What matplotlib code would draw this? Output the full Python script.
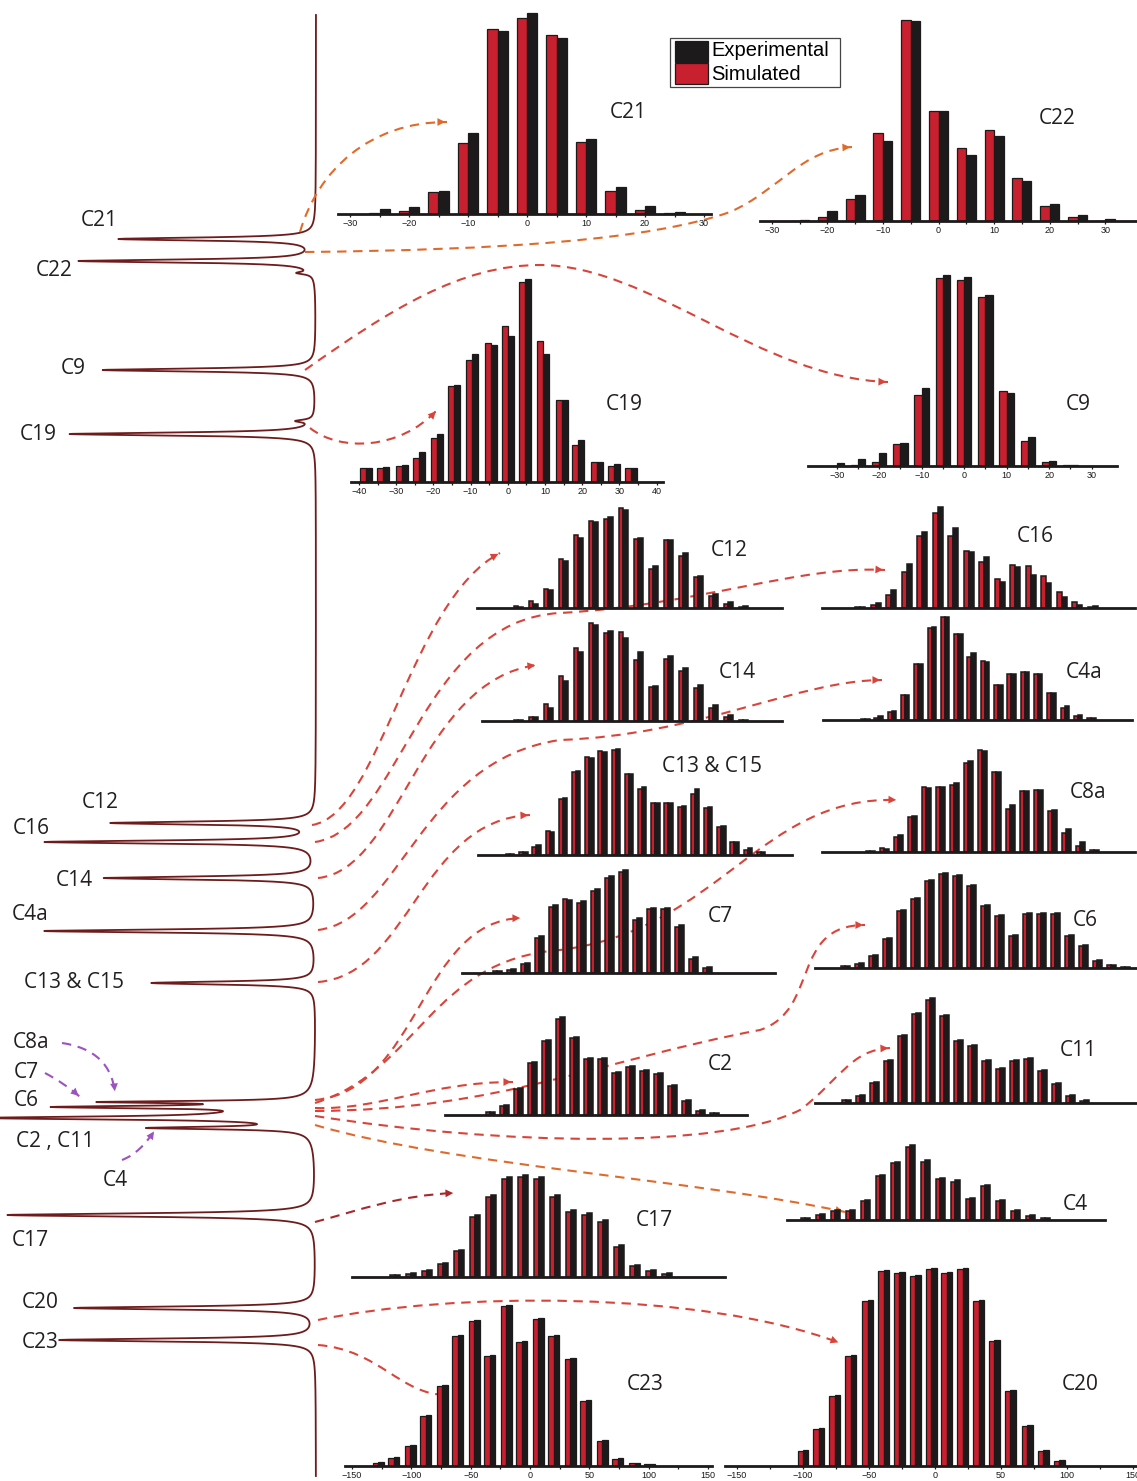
import numpy as np
import matplotlib.pyplot as plt
from matplotlib.path import Path
from matplotlib.patches import PathPatch, FancyArrowPatch, Rectangle

W, H = 1137, 1481
RED = "#c8202e"
BLK = "#1c1a1b"
SPEC = "#6e1b1b"
ARROW = "#d9443a"
ORANGE = "#e06a2c"
PURPLE = "#9c52c0"
LABEL_FONT = ["Open Sans", "DejaVu Sans"]
TICK_FONT = ["Liberation Sans", "DejaVu Sans"]

# ---- 13C spectrum: peak positions (px along the strip), tip positions, widths ----
spec_base = 316
peak_y = [239, 261, 273, 370, 421, 434, 823, 842, 878, 931, 983,
          1102, 1107, 1114, 1118, 1128, 1215, 1308, 1340]
peak_tip = [120, 80, 302, 103, 300, 70, 113, 47, 105, 45, 152,
            130, 92, 262, 30, 165, 8, 75, 60]
peak_w = [1.8, 1.8, 1.5, 1.8, 1.5, 1.8, 1.8, 1.8, 1.8, 1.8, 1.8,
          1.2, 1.5, 6.0, 1.8, 1.5, 2.0, 1.8, 1.8]

spec_labels = ["C21", "C22", "C9", "C19", "C12", "C16", "C14", "C4a", "C13 & C15",
               "C8a", "C7", "C6", "C2 , C11", "C4", "C17", "C20", "C23"]
spec_label_xy = [(99, 220), (54, 271), (73, 368), (38, 435), (100, 803), (31, 829),
                 (74, 880), (30, 915), (74, 982), (31, 1043), (26, 1072), (26, 1101),
                 (55, 1142), (115, 1180), (30, 1240), (40, 1302), (40, 1342)]

# ---- histograms: experimental vs simulated ----
c21_x = [-25, -20, -15, -10, -5, 0, 5, 10, 15, 20, 25]
c21_exp = [5, 7, 23, 81, 183, 201, 176, 75, 27, 8, 2]
c21_sim = [1, 3, 22, 71, 185, 196, 179, 72, 23, 4, 1]

c22_x = [-25, -20, -15, -10, -5, 0, 5, 10, 15, 20, 25, 30]
c22_exp = [1, 10, 26, 80, 200, 110, 66, 85, 40, 17, 6, 2]
c22_sim = [0, 4, 22, 88, 201, 110, 73, 91, 43, 15, 4, 0]

c19_x = [-38, -33.5, -28.5, -24, -19, -14.5, -9.5, -4.5, 0, 4.5, 9.5, 14.5, 19, 24, 28.5, 33]
c19_exp = [14, 15, 17, 30, 48, 97, 128, 137, 146, 203, 128, 82, 42, 20, 18, 14]
c19_sim = [14, 14, 16, 24, 44, 96, 122, 139, 156, 200, 141, 82, 37, 20, 16, 14]

c9_x = [-30, -25, -20, -15, -10, -5, 0, 5, 10, 15, 20, 25]
c9_exp = [3, 7, 13, 23, 78, 191, 189, 171, 73, 29, 5, 1]
c9_sim = [0, 1, 4, 22, 71, 188, 186, 169, 75, 25, 4, 1]

c12_exp = [1, 4, 18, 47, 70, 86, 91, 98, 70, 42, 68, 55, 32, 14, 6, 2]
c12_sim = [2, 7, 19, 49, 73, 87, 89, 100, 69, 39, 68, 52, 31, 12, 4, 1]

c16_exp = [1, 5, 18, 44, 76, 101, 80, 56, 51, 26, 41, 33, 25, 11, 3, 2]
c16_sim = [1, 3, 13, 36, 72, 95, 72, 57, 46, 29, 43, 42, 32, 16, 6, 1]

c14_exp = [1, 4, 13, 40, 69, 96, 90, 83, 69, 35, 65, 53, 36, 16, 6, 1]
c14_sim = [1, 4, 17, 45, 73, 98, 88, 89, 61, 34, 62, 50, 33, 13, 4, 1]

c4a_exp = [1, 4, 9, 25, 56, 93, 103, 86, 67, 58, 35, 46, 48, 46, 27, 14, 5, 2]
c4a_sim = [1, 2, 8, 25, 56, 92, 103, 86, 63, 59, 35, 46, 48, 46, 27, 12, 4, 2]

c1315_exp = [1, 3, 10, 23, 57, 84, 97, 103, 106, 81, 68, 52, 52, 49, 66, 48, 29, 13, 7, 3]
c1315_sim = [1, 3, 8, 24, 56, 83, 98, 104, 105, 81, 66, 52, 52, 48, 61, 47, 28, 13, 5, 3]

c8a_exp = [1, 3, 17, 36, 64, 65, 69, 91, 101, 80, 47, 61, 62, 42, 23, 10, 2]
c8a_sim = [1, 4, 15, 35, 65, 65, 67, 89, 102, 80, 43, 61, 62, 41, 19, 6, 2]

c7_exp = [2, 4, 10, 37, 68, 73, 72, 84, 97, 103, 55, 65, 65, 48, 16, 6]
c7_sim = [2, 3, 9, 35, 66, 74, 70, 82, 95, 101, 53, 64, 64, 46, 14, 5]

c6_exp = [2, 5, 13, 30, 58, 70, 88, 95, 93, 83, 63, 53, 33, 55, 55, 55, 33, 23, 8, 3, 1]
c6_sim = [2, 4, 12, 29, 57, 69, 87, 94, 92, 82, 62, 52, 32, 54, 54, 54, 32, 22, 7, 3, 1]

c2_exp = [3, 10, 27, 53, 75, 98, 78, 57, 57, 43, 49, 45, 42, 30, 15, 5, 2]
c2_sim = [3, 9, 26, 52, 74, 96, 77, 56, 56, 42, 48, 44, 41, 29, 14, 4, 2]

c11_exp = [3, 8, 21, 43, 68, 90, 105, 88, 63, 58, 43, 35, 43, 45, 33, 20, 8, 3]
c11_sim = [3, 7, 20, 42, 67, 89, 103, 87, 62, 57, 42, 34, 42, 44, 32, 19, 7, 2]

c17_exp = [2, 4, 7, 14, 27, 62, 82, 100, 102, 100, 82, 67, 64, 57, 32, 12, 7, 4]
c17_sim = [2, 3, 6, 13, 26, 60, 80, 98, 100, 98, 80, 65, 62, 55, 30, 11, 6, 3]

c4_exp = [2, 6, 10, 10, 20, 45, 58, 75, 60, 42, 40, 22, 35, 20, 10, 5, 2]
c4_sim = [2, 5, 9, 9, 19, 44, 57, 73, 58, 41, 38, 21, 34, 19, 9, 4, 2]

c23_x = [-128, -115, -101, -88, -74, -61, -47, -34, -20, -7, 7, 20, 34, 47, 61, 74, 88, 101]
c23_exp = [4, 9, 21, 51, 81, 131, 146, 111, 161, 125, 148, 131, 108, 66, 26, 8, 3, 2]
c23_sim = [3, 8, 20, 50, 80, 130, 145, 110, 160, 124, 147, 130, 107, 65, 25, 7, 3, 2]

c20_x = [-100, -88, -76, -64, -51, -39, -27, -15, -3, 9, 21, 33, 45, 57, 70, 82, 94]
c20_exp = [16, 38, 71, 111, 166, 196, 194, 191, 198, 194, 198, 166, 126, 76, 41, 16, 6]
c20_sim = [15, 37, 70, 110, 165, 195, 193, 190, 197, 193, 197, 165, 125, 75, 40, 15, 5]

fig = plt.figure(figsize=(W / 100, H / 100), dpi=100)
bg = fig.add_axes([0, 0, 1, 1])
bg.set_xlim(0, W)
bg.set_ylim(H, 0)
bg.axis("off")

# spectrum drawn on its side, peaks pointing left
sy = np.linspace(15, 1476, 40000)
sx = np.full_like(sy, float(spec_base))
for yc, tip, g in zip(peak_y, peak_tip, peak_w):
    sx -= (spec_base - tip) * g ** 2 / (g ** 2 + (sy - yc) ** 2)
bg.plot(sx, sy, color=SPEC, lw=1.3, zorder=3)

for txt, (x, y) in zip(spec_labels, spec_label_xy):
    bg.text(x, y, txt, fontsize=15, family=LABEL_FONT, ha="center", va="center", color="#231f20")


def curve(pts, color, lw=1.5):
    pts = np.asarray(pts, float)
    codes = [Path.MOVETO] + [Path.CURVE4] * (len(pts) - 1)
    bg.add_patch(PathPatch(Path(pts, codes), fc="none", ec=color, lw=lw,
                           ls=(0, (4.5, 3.2)), zorder=4))
    d = pts[-1] - pts[-2]
    d = d / np.hypot(*d)
    bg.add_patch(FancyArrowPatch(pts[-1] - d * 9, pts[-1] + d * 1, arrowstyle="-|>",
                                 mutation_scale=14, color=color, lw=0, zorder=4))


arrows = [
    ([(300, 232), (318, 170), (370, 122), (447, 122)], ORANGE),
    ([(305, 252), (500, 250), (650, 240), (730, 212), (780, 190), (800, 150), (852, 147)], ORANGE),
    ([(305, 370), (390, 310), (460, 265), (540, 265), (650, 265), (760, 378), (888, 382)], ARROW),
    ([(310, 428), (340, 452), (400, 450), (437, 410)], ARROW),
    ([(312, 825), (380, 815), (410, 600), (500, 553)], ARROW),
    ([(315, 842), (400, 830), (420, 620), (560, 613), (700, 605), (800, 565), (885, 570)], ARROW),
    ([(318, 878), (400, 870), (420, 680), (537, 665)], ARROW),
    ([(318, 930), (400, 920), (420, 760), (560, 740), (700, 735), (800, 680), (882, 680)], ARROW),
    ([(318, 982), (410, 975), (420, 820), (530, 815)], ARROW),
    ([(315, 1100), (420, 1090), (420, 920), (522, 918)], ARROW),
    ([(315, 1103), (420, 1070), (430, 960), (560, 950), (720, 930), (760, 795), (898, 800)], ARROW),
    ([(315, 1108), (380, 1110), (430, 1082), (513, 1082)], ARROW),
    ([(315, 1111), (500, 1110), (600, 1060), (760, 1030), (820, 1010), (790, 925), (865, 925)], ARROW),
    ([(315, 1116), (500, 1145), (720, 1150), (800, 1110), (840, 1080), (850, 1050), (890, 1048)], ARROW),
    ([(315, 1125), (450, 1165), (700, 1180), (845, 1212)], ORANGE),
    ([(315, 1222), (360, 1210), (400, 1195), (455, 1193)], "#a8282c"),
    ([(318, 1320), (450, 1292), (700, 1290), (840, 1343)], ARROW),
    ([(318, 1345), (380, 1350), (400, 1395), (447, 1395)], ARROW),
    ([(62, 1043), (95, 1048), (112, 1065), (115, 1093)], PURPLE),
    ([(45, 1073), (58, 1080), (70, 1088), (80, 1097)], PURPLE),
    ([(122, 1160), (135, 1155), (145, 1145), (155, 1130)], PURPLE),
]
for pts, col in arrows:
    curve(pts, col)


def hist(left, right, base, x, exp, sim, step, xlim, ticks=None, edge=0.9, red_w=0.34):
    ax = fig.add_axes([left / W, (H - base) / H, (right - left) / W, 240 / H])
    ax.patch.set_visible(False)
    x = np.asarray(x, float)
    ax.bar(x - (red_w / 2) * step, sim, width=red_w * step, color=RED, edgecolor=BLK, lw=edge, zorder=2)
    ax.bar(x + 0.17 * step, exp, width=0.34 * step, color=BLK, edgecolor=BLK, lw=edge, zorder=2)
    ax.set_xlim(*xlim)
    ax.set_ylim(0, 240)
    for s in ["top", "left", "right"]:
        ax.spines[s].set_visible(False)
    ax.spines["bottom"].set_linewidth(2.0)
    ax.spines["bottom"].set_color(BLK)
    ax.set_yticks([])
    if ticks is None:
        ax.set_xticks([])
    else:
        major, minor = ticks
        ax.set_xticks(major)
        ax.set_xticks(minor, minor=True)
        ax.tick_params(axis="x", which="both", direction="out", length=2.5, width=0.9, pad=1,
                       labelsize=6.5, colors=BLK)
        for t in ax.get_xticklabels():
            t.set_family(TICK_FONT)
    return ax


def mid(left, right, base, first, spacing, exp, sim):
    x = np.arange(len(exp))
    hist(left, right, base, x, exp, sim, 1.0,
         ((left - first) / spacing, (right - first) / spacing), edge=1.1, red_w=0.3)


def lab_xlim(left, right, x0, px0, ppu):
    return (x0 - (px0 - left) / ppu, x0 + (right - px0) / ppu)


t30 = (np.arange(-30, 31, 10), np.arange(-30, 31, 5))
hist(338, 711, 214, c21_x, c21_exp, c21_sim, 5, lab_xlim(338, 711, -30, 350, 5.9), t30)
hist(760, 1137, 221, c22_x, c22_exp, c22_sim, 5, lab_xlim(760, 1137, -30, 771.7, 5.56), t30)
hist(351, 663, 482, c19_x, c19_exp, c19_sim, 4.75, lab_xlim(351, 663, -40, 359, 3.72),
     (np.arange(-40, 41, 10), np.arange(-40, 41, 5)))
hist(808, 1117, 466, c9_x, c9_exp, c9_sim, 5, lab_xlim(808, 1117, -30, 836.7, 4.25), t30)

mid(477, 782, 608, 518.3, 15.0, c12_exp, c12_sim)
mid(822, 1135, 608, 860, 15.5, c16_exp, c16_sim)
mid(482, 782, 721, 518.3, 15.0, c14_exp, c14_sim)
mid(823, 1132, 720, 865, 13.3, c4a_exp, c4a_sim)
mid(478, 792, 855, 510, 13.2, c1315_exp, c1315_sim)
mid(822, 1135, 852, 870, 14.0, c8a_exp, c8a_sim)
mid(462, 775, 973, 497, 14, c7_exp, c7_sim)
mid(815, 1137, 968, 845, 14, c6_exp, c6_sim)
mid(445, 747, 1115, 490, 14, c2_exp, c2_sim)
mid(815, 1137, 1103, 846, 14, c11_exp, c11_sim)
mid(352, 725, 1277, 395, 16, c17_exp, c17_sim)
mid(787, 1105, 1220, 805, 15, c4_exp, c4_sim)

t150 = (np.arange(-150, 151, 50), np.arange(-150, 151, 25))
hist(345, 712, 1466, c23_x, c23_exp, c23_sim, 13.5, lab_xlim(345, 712, -150, 352, 1.187), t150)
hist(725, 1137, 1466, c20_x, c20_exp, c20_sim, 12.2, lab_xlim(725, 1137, -150, 737, 1.32), t150)

inset_labels = ["C21", "C22", "C19", "C9", "C12", "C16", "C14", "C4a", "C13 & C15", "C8a",
                "C7", "C6", "C2", "C11", "C17", "C4", "C23", "C20"]
inset_label_xy = [(628, 113), (1057, 119), (624, 405), (1078, 405), (729, 550), (1035, 537),
                  (737, 673), (1084, 673), (712, 767), (1088, 792), (720, 917), (1085, 921),
                  (720, 1065), (1078, 1050), (654, 1220), (1075, 1205), (645, 1385), (1080, 1385)]
for txt, (x, y) in zip(inset_labels, inset_label_xy):
    bg.text(x, y, txt, fontsize=15, family=LABEL_FONT, ha="center", va="center", color="#231f20",
            zorder=6)

# legend box
bg.add_patch(Rectangle((670, 38), 170, 49, fc="white", ec="#444444", lw=0.9, zorder=6))
bg.add_patch(Rectangle((675, 41), 33, 21, fc=BLK, ec=BLK, lw=0.9, zorder=7))
bg.add_patch(Rectangle((675, 63), 33, 21, fc=RED, ec=BLK, lw=0.9, zorder=7))
bg.text(711, 51, "Experimental", fontsize=14.5, family=TICK_FONT, va="center", zorder=7)
bg.text(711, 74, "Simulated", fontsize=14.5, family=TICK_FONT, va="center", zorder=7)

fig.savefig("out.png", dpi=100)
